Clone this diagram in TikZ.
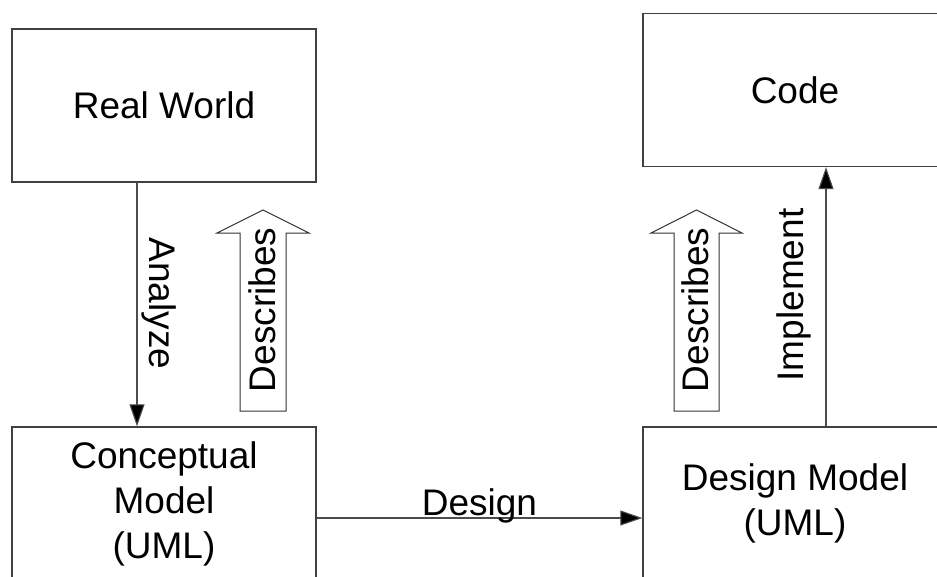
\documentclass[tikz,border=0pt]{standalone}
\usepackage{fontspec}
\setmainfont{Liberation Sans}
\usetikzlibrary{arrows.meta}

\tikzset{
  box/.style={draw=black!75, line width=1.3pt, minimum width=304pt, minimum height=153pt,
              inner sep=0pt, align=center, font=\fontsize{37}{45}\selectfont},
  flow/.style={draw=black!70, line width=1.1pt, -{Triangle[length=22pt,width=15pt,fill=black]}},
  txt/.style={inner sep=0pt, font=\fontsize{37}{45}\selectfont},
  blockarrow/.style={draw=black!80, line width=1pt, fill=white, line join=miter}
}

\begin{document}
\begin{tikzpicture}[x=1pt, y=-1pt]
  \useasboundingbox (0,0) rectangle (937,576);
  \clip (0,0) rectangle (937,576);

  % the four stages
  \node[box] (real) at (164,105.5) {Real World};
  \node[box] (conc) at (164,503.5) {Conceptual\\Model\\(UML)};
  \node[box] (code) at (795,90) {Code};
  \node[box] (dm)   at (795,503.5) {Design Model\\(UML)};

  % transitions between the stages
  \draw[flow] ([xshift=-27pt]real.south) -- ([xshift=-27pt]conc.north);
  \node[txt, rotate=-90, anchor=base] (analyze) at (149,303.5) {Analyze};

  \draw[flow] ([yshift=-14.5pt]conc.east) -- ([yshift=-14.5pt]dm.west)
    node[txt, pos=0.5, anchor=base, yshift=3pt] (design) {Design};

  \draw[flow] ([xshift=31pt]dm.north) -- ([xshift=31pt]code.south);
  \node[txt, rotate=90, anchor=base] (impl) at (803,295) {Implement};

  % hollow "describes" arrows
  \draw[blockarrow] (240,411) -- (240,233) -- (217,233) -- (263,210) -- (309,233)
    -- (286,233) -- (286,411) -- cycle;
  \node[txt, rotate=90, anchor=base] (descA) at (275,310) {Describes};

  \draw[blockarrow] (674,411) -- (674,233) -- (651,233) -- (696.5,210) -- (742,233)
    -- (719,233) -- (719,411) -- cycle;
  \node[txt, rotate=90, anchor=base] (descB) at (708,310) {Describes};
\end{tikzpicture}
\end{document}
